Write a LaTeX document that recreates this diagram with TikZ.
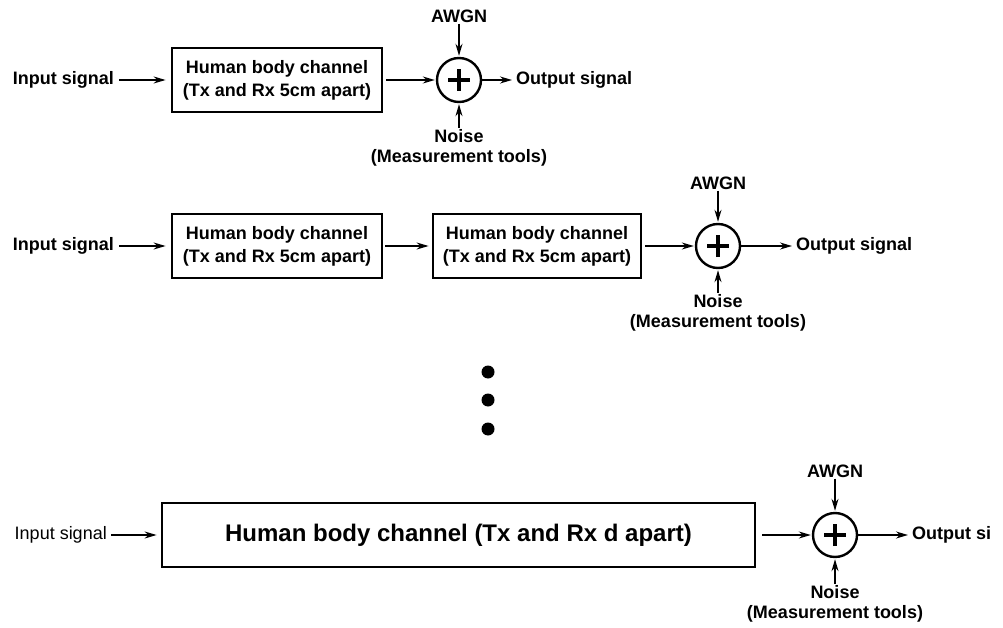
\documentclass[tikz,border=0pt]{standalone}
\usepackage{fontspec}
\setmainfont{Liberation Sans}
\usetikzlibrary{arrows.meta}

\begin{document}
\begin{tikzpicture}[x=1pt,y=-1pt,
    font=\fontsize{18}{20.5}\selectfont\bfseries,
    chan/.style={draw,line width=2.8pt,align=center,minimum height=64pt,inner sep=0pt,
      font=\fontsize{18}{23}\selectfont\bfseries},
    lbl/.style={inner sep=1pt},
    sum/.style={circle,draw,line width=2.4pt,minimum size=44pt,inner sep=0pt,
      path picture={
        \draw[line width=3.4pt] ([xshift=-11pt]path picture bounding box.center) -- ([xshift=11pt]path picture bounding box.center);
        \draw[line width=3.4pt] ([yshift=-11pt]path picture bounding box.center) -- ([yshift=11pt]path picture bounding box.center);}},
    sig/.style={-{Stealth[length=12pt,width=7pt]},line width=1.5pt}]
  \useasboundingbox (0,0) rectangle (1003,628);

  \node[lbl,anchor=east] (in1) at (115,80) {Input signal};
  \node[chan,minimum width=210pt] (ch1) at (277,80) {Human body channel\\(Tx and Rx 5cm apart)};
  \node[sum] (s1) at (459,80) {};
  \node[lbl] (w1) at (459,16) {AWGN};
  \node[lbl,anchor=north,align=center] (n1) at (459,128) {Noise\\(Measurement tools)};
  \node[lbl,anchor=west] (out1) at (515,80) {Output signal};
  \draw[sig,shorten <=4pt,shorten >=5pt] (in1) -- (ch1);
  \draw[sig,shorten <=3pt,shorten >=1pt] (ch1) -- (s1);
  \draw[sig,shorten >=3pt] (s1) -- (out1);
  \draw[sig,shorten >=1pt] (w1) -- (s1);
  \draw[sig,shorten >=1pt] (n1) -- (s1);

  \node[lbl,anchor=east] (in2) at (115,246) {Input signal};
  \node[chan,minimum width=210pt] (ch21) at (277,246) {Human body channel\\(Tx and Rx 5cm apart)};
  \node[chan,minimum width=208pt] (ch22) at (537,246) {Human body channel\\(Tx and Rx 5cm apart)};
  \node[sum] (s2) at (718,246) {};
  \node[lbl] (w2) at (718,183) {AWGN};
  \node[lbl,anchor=north,align=center] (n2) at (718,293) {Noise\\(Measurement tools)};
  \node[lbl,anchor=west] (out2) at (795,246) {Output signal};
  \draw[sig,shorten <=4pt,shorten >=5pt] (in2) -- (ch21);
  \draw[sig,shorten <=2pt,shorten >=3pt] (ch21) -- (ch22);
  \draw[sig,shorten <=3pt,shorten >=1pt] (ch22) -- (s2);
  \draw[sig,shorten >=3pt] (s2) -- (out2);
  \draw[sig,shorten >=1pt] (w2) -- (s2);
  \draw[sig,shorten >=1pt] (n2) -- (s2);

  \foreach \y in {372,400,429}
    \fill (488,\y) circle (6.5);

  \node[lbl,anchor=east,font=\fontsize{18}{21}\selectfont\mdseries] (in3) at (108,535) {Input signal};
  \node[chan,minimum width=593pt,font=\fontsize{24}{28}\selectfont\bfseries] (ch3) at (458.5,535) {Human body channel (Tx and Rx d apart)};
  \node[sum] (s3) at (835,535) {};
  \node[lbl] (w3) at (835,471) {AWGN};
  \node[lbl,anchor=north,align=center] (n3) at (835,584) {Noise\\(Measurement tools)};
  \node[lbl,anchor=west] (out3) at (911,535) {Output si};
  \draw[sig,shorten <=3pt,shorten >=4pt] (in3) -- (ch3);
  \draw[sig,shorten <=6pt,shorten >=1pt] (ch3) -- (s3);
  \draw[sig,shorten >=3pt] (s3) -- (out3);
  \draw[sig,shorten >=1pt] (w3) -- (s3);
  \draw[sig,shorten >=1pt] (n3) -- (s3);
\end{tikzpicture}
\end{document}
